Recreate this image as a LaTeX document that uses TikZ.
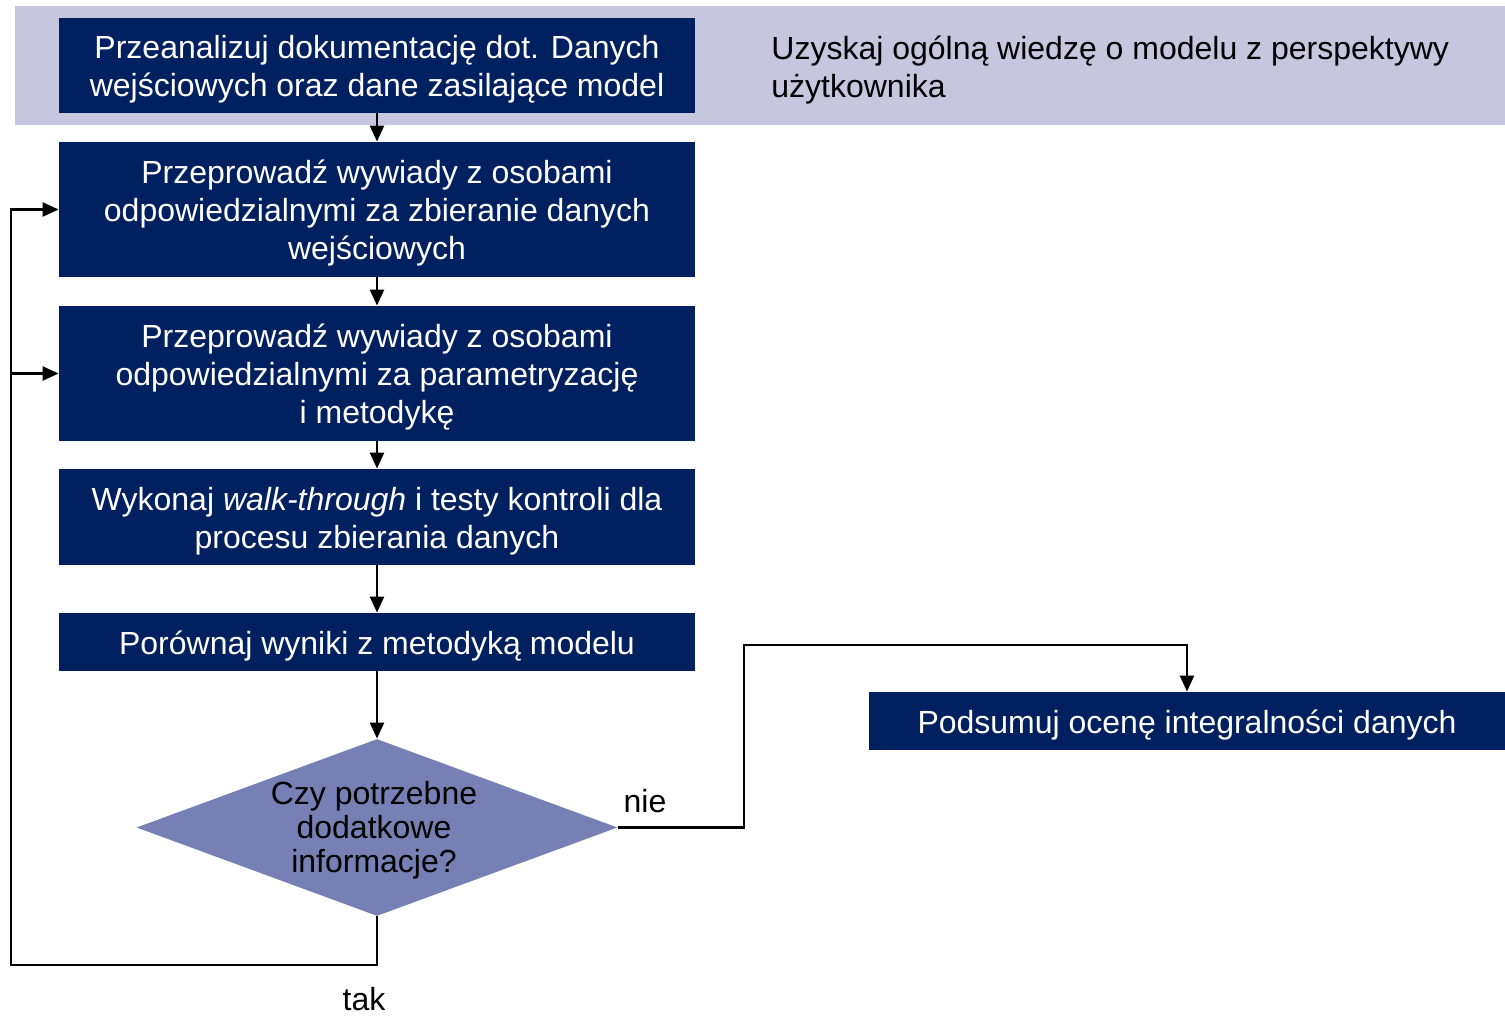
\documentclass[tikz,border=0pt]{standalone}
\usepackage{fontspec}
\setmainfont{Liberation Sans}
\usetikzlibrary{shapes.geometric,arrows.meta}

\definecolor{navy}{HTML}{002060}
\definecolor{band}{HTML}{C6C6DE}
\definecolor{decfill}{HTML}{7780B4}

\tikzset{
  stepbox/.style={fill=navy, inner sep=0pt, minimum width=318pt},
  boxtext/.style={text=white, inner sep=0pt, align=center,
    font=\fontsize{16pt}{19pt}\selectfont},
  decision/.style={diamond, fill=decfill, inner sep=0pt,
    minimum width=240.5pt, minimum height=88.5pt},
  plain/.style={inner sep=0pt, font=\fontsize{16pt}{19pt}\selectfont},
  conn/.style={draw=black, line width=1.2pt},
  arr/.style={conn, -{Triangle[length=8pt,width=7pt]}},
}

\begin{document}
\begin{tikzpicture}[x=0.5pt, y=-0.5pt]
  \useasboundingbox (0,0) rectangle (1505,1016);

  % overview band
  \fill[band] (15,6) rectangle (1505,125);
  \node[plain, anchor=west, align=left] (goal) at (771,70)
    {Uzyskaj ogólną wiedzę o modelu z perspektywy\\użytkownika};

  % process steps
  \node[stepbox, minimum height=47.5pt] (b1) at (377,65.5) {};
  \node[stepbox, minimum height=67.5pt] (b2) at (377,209.5) {};
  \node[stepbox, minimum height=67.5pt] (b3) at (377,373.5) {};
  \node[stepbox, minimum height=48pt] (b4) at (377,517) {};
  \node[stepbox, minimum height=29pt] (b5) at (377,642) {};
  \node[stepbox, minimum height=29pt] (b6) at (1187,721) {};

  \node[boxtext] (t1) at ([yshift=-2pt]b1.center)
    {Przeanalizuj dokumentację dot. Danych\\wejściowych oraz dane zasilające model};
  \node[boxtext] (t2) at ([yshift=-2pt]b2.center)
    {Przeprowadź wywiady z osobami\\odpowiedzialnymi za zbieranie danych\\wejściowych};
  \node[boxtext] (t3) at ([yshift=-2pt]b3.center)
    {Przeprowadź wywiady z osobami\\odpowiedzialnymi za parametryzację\\i metodykę};
  \node[boxtext] (t4) at ([yshift=-2pt]b4.center)
    {Wykonaj \textit{walk-through} i testy kontroli dla\\procesu zbierania danych};
  \node[boxtext] (t5) at ([yshift=-2pt]b5.center)
    {Porównaj wyniki z metodyką modelu};
  \node[boxtext] (t6) at ([yshift=-2pt]b6.center)
    {Podsumuj ocenę integralności danych};

  % decision
  \node[decision] (q) at (377,827.5) {};
  \node[plain, align=center, font=\fontsize{16pt}{17pt}\selectfont] (qt) at (374,830)
    {Czy potrzebne\\dodatkowe\\informacje?};

  % branch labels
  \node[plain] (no) at (645,801) {nie};
  \node[plain] (yes) at (364,999) {tak};

  % routing points
  \coordinate (lb) at (11,965);
  \coordinate (nx) at (744,645);

  % main flow
  \draw[arr] (b1) -- (b2);
  \draw[arr] (b2) -- (b3);
  \draw[arr] (b3) -- (b4);
  \draw[arr] (b4) -- (b5);
  \draw[arr] (b5) -- (q);

  % "tak" loop back
  \draw[arr] (q.south) |- (lb) |- (b2.west);
  \draw[arr] (lb |- b3.west) -- (b3.west);

  % "nie" exit
  \draw[arr] (q.east) -| (nx) -| (b6.north);
\end{tikzpicture}
\end{document}
